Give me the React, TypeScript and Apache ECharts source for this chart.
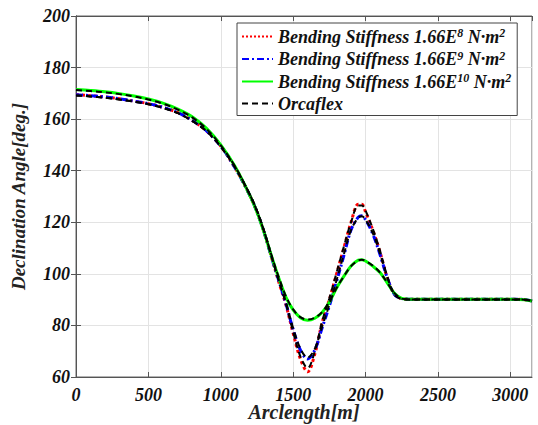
import React, { useEffect, useRef } from "react";
import * as echarts from "echarts";

const arclength = [0, 100, 200, 300, 400, 500, 600, 700, 800, 900, 1000, 1100, 1200, 1250, 1300, 1350, 1400, 1450, 1500, 1550, 1600, 1650, 1700, 1750, 1800, 1850, 1900, 1950, 1975, 2000, 2050, 2100, 2150, 2200, 2250, 2300, 2500, 2750, 3000, 3100, 3150];

const stiff8 = [169.5, 169.1, 168.6, 167.9, 167.0, 166.0, 164.6, 162.6, 159.6, 155.5, 149.5, 141.0, 130.5, 124.0, 116.0, 106.5, 97.0, 88.0, 77.0, 67.0, 62.0, 69.0, 81.0, 90.0, 100.0, 110.0, 120.0, 127.0, 127.0, 124.0, 117.0, 108.5, 98.5, 92.0, 90.4, 90.2, 90.2, 90.2, 90.2, 90.0, 89.5];
const stiff9 = [169.5, 169.1, 168.6, 167.9, 167.0, 166.0, 164.6, 162.6, 159.6, 155.5, 149.5, 141.0, 130.5, 124.0, 116.0, 106.5, 97.5, 88.5, 78.5, 70.5, 67.0, 70.5, 79.0, 87.5, 97.0, 107.0, 117.0, 122.0, 122.5, 121.0, 115.5, 107.5, 98.5, 92.0, 90.4, 90.2, 90.2, 90.2, 90.2, 90.0, 89.5];
const stiff10 = [171.5, 171.1, 170.6, 169.9, 169.0, 167.8, 166.2, 164.0, 161.0, 156.5, 150.0, 141.5, 130.5, 124.0, 116.0, 107.0, 98.5, 91.0, 86.0, 83.0, 82.0, 82.8, 85.0, 89.0, 94.5, 99.0, 103.0, 105.3, 105.5, 105.0, 103.0, 100.5, 96.5, 92.5, 90.5, 90.2, 90.2, 90.2, 90.2, 90.0, 89.5];
const orca8 = [169.2, 168.8, 168.3, 167.6, 166.8, 165.8, 164.4, 162.4, 159.4, 155.4, 149.3, 141.2, 130.8, 124.5, 116.5, 107.0, 97.5, 88.5, 77.5, 68.0, 63.5, 70.0, 81.5, 90.5, 100.5, 110.5, 120.0, 126.5, 126.5, 124.5, 117.5, 109.0, 99.0, 92.0, 90.3, 90.1, 90.1, 90.1, 90.1, 90.0, 89.5];
const orca9 = [169.2, 168.8, 168.3, 167.6, 166.8, 165.8, 164.4, 162.4, 159.4, 155.4, 149.3, 141.2, 130.8, 124.5, 116.5, 107.0, 97.8, 89.0, 79.0, 71.0, 67.5, 71.0, 79.5, 88.0, 97.5, 107.5, 117.0, 121.8, 122.3, 121.0, 115.8, 107.8, 98.8, 92.0, 90.3, 90.1, 90.1, 90.1, 90.1, 90.0, 89.5];
const orca10 = [171.3, 170.9, 170.4, 169.7, 168.8, 167.6, 166.0, 163.8, 160.8, 156.3, 149.8, 141.5, 130.8, 124.3, 116.3, 107.3, 98.8, 91.3, 86.2, 83.2, 82.3, 83.0, 85.2, 89.2, 94.5, 99.0, 103.0, 105.2, 105.5, 105.0, 103.2, 100.5, 96.6, 92.5, 90.4, 90.1, 90.1, 90.1, 90.1, 90.0, 89.5];

const seriesNames = ["Bending Stiffness 1.66E8 N·m2", "Bending Stiffness 1.66E9 N·m2", "Bending Stiffness 1.66E10 N·m2", "Orcaflex"];
const exponents = ["8", "9", "10"];
const xTicks = { min: 0, max: 3150, interval: 500 };
const yTicks = { min: 60, max: 200, interval: 20 };

const FONT = "Liberation Serif";

export default function App() {
  const ref = useRef<HTMLDivElement>(null);
  useEffect(() => {
    if (!ref.current) return;
    const chart = echarts.init(ref.current, undefined, { renderer: "svg" });
    const pair = (ys: number[]) => arclength.map((x, i) => [x, ys[i]]);
    const base = { type: "line", symbol: "none", smooth: 0.35, showSymbol: false, xAxisIndex: 0, yAxisIndex: 0 };
    const txt = { fontFamily: FONT, fontWeight: "bold", fontStyle: "italic", color: "#111" };
    const axisLine = { show: true, lineStyle: { color: "#555" } };
    const tick = { show: true, inside: true, length: 5, lineStyle: { color: "#555" } };
    chart.setOption({
      animation: false,
      backgroundColor: "#ffffff",
      grid: { left: 76, right: 6, top: 16, bottom: 48, show: true, borderColor: "#666", borderWidth: 1, outerBoundsMode: "none", containLabel: false },
      legend: {
        data: seriesNames,
        orient: "vertical",
        left: 237,
        top: 23,
        padding: [4, 6, 3, 4],
        itemGap: 4,
        itemWidth: 31,
        itemHeight: 14,
        backgroundColor: "#fff",
        borderColor: "#444",
        borderWidth: 1,
        itemStyle: { opacity: 0 },
        textStyle: {
          ...txt, fontSize: 18,
          rich: {
            t: { ...txt, fontSize: 18, lineHeight: 19 },
            s: { ...txt, fontSize: 12, verticalAlign: "top", lineHeight: 19 },
          },
        },
        formatter: (name: string) => {
          const i = seriesNames.indexOf(name);
          if (i >= 0 && i < 3) return `{t|Bending Stiffness 1.66E}{s|${exponents[i]}}{t| N·m}{s|2}`;
          return `{t|${name}}`;
        },
      },
      xAxis: [
        {
          type: "value",
          min: xTicks.min, max: xTicks.max, interval: xTicks.interval,
          name: "Arclength[m]",
          nameLocation: "middle",
          nameMoveOverlap: false,
          nameGap: 25,
          nameTextStyle: { ...txt, fontSize: 20, color: "#222" },
          axisLine, axisTick: tick,
          axisLabel: { ...txt, fontSize: 18, margin: 9, showMaxLabel: false, formatter: (v: number) => String(v) },
          splitLine: { show: true, lineStyle: { color: "#e3e3e3" } },
        },
        {
          type: "value", position: "top",
          min: xTicks.min, max: xTicks.max, interval: xTicks.interval,
          axisLine, axisTick: tick, axisLabel: { show: false }, splitLine: { show: false },
        },
      ],
      yAxis: [
        {
          type: "value",
          min: yTicks.min, max: yTicks.max, interval: yTicks.interval,
          name: "Declination Angle[deg.]",
          nameLocation: "middle",
          nameMoveOverlap: false,
          nameGap: 48,
          nameTextStyle: { ...txt, fontSize: 19, color: "#222" },
          axisLine, axisTick: tick,
          axisLabel: { ...txt, fontSize: 18, margin: 6, formatter: (v: number) => String(v) },
          splitLine: { show: true, lineStyle: { color: "#e3e3e3" } },
        },
        {
          type: "value", position: "right",
          min: yTicks.min, max: yTicks.max, interval: yTicks.interval,
          axisLine, axisTick: tick, axisLabel: { show: false }, splitLine: { show: false },
        },
      ],
      series: [
        { ...base, name: seriesNames[0], data: pair(stiff8), color: "#ff0000", lineStyle: { color: "#ff0000", width: 3, type: "dotted" } },
        { ...base, name: seriesNames[1], data: pair(stiff9), color: "#0000ff", lineStyle: { color: "#0000ff", width: 3, type: [7, 3, 2, 3] } },
        { ...base, name: seriesNames[2], data: pair(stiff10), color: "#00ff00", lineStyle: { color: "#00ff00", width: 3, type: "solid" } },
        { ...base, name: seriesNames[3], data: pair(orca8), color: "#000", lineStyle: { color: "#000", width: 2, type: [6, 4] } },
        { ...base, name: seriesNames[3], data: pair(orca9), color: "#000", lineStyle: { color: "#000", width: 2, type: [6, 4] } },
        { ...base, name: seriesNames[3], data: pair(orca10), color: "#000", lineStyle: { color: "#000", width: 2, type: [6, 4] } },
      ],
    });
    return () => chart.dispose();
  }, []);
  return <div ref={ref} style={{ width: 538, height: 425, position: "absolute", left: 0, top: 0 }} />;
}
